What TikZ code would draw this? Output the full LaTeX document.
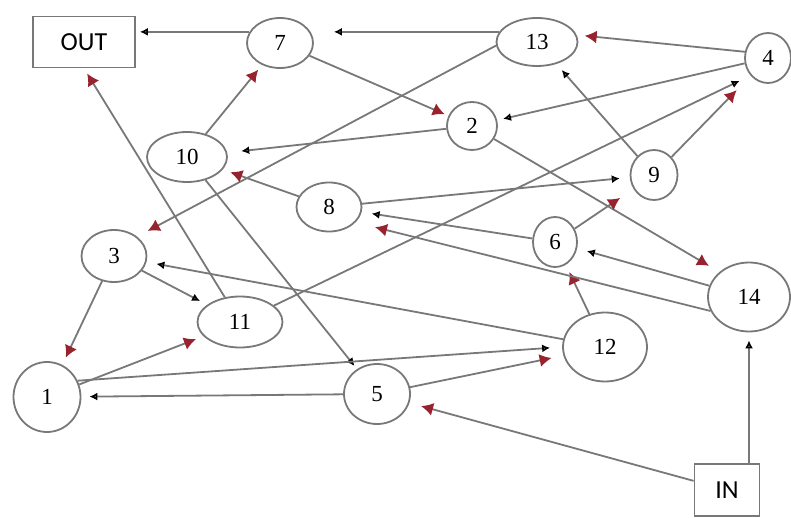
\documentclass[tikz,border=0pt]{standalone}
\usepackage{fontspec}
\setmainfont{Liberation Serif}
\setsansfont{Carlito}
\usepackage{xcolor}
\usepackage{tikz}
\usetikzlibrary{arrows.meta,shapes.geometric}

\definecolor{linegray}{RGB}{120,120,120}
\definecolor{tipred}{RGB}{150,35,45}

\begin{document}
\begin{tikzpicture}[x=0.5pt,y=-0.5pt,>={Latex[length=4pt,width=4pt,color=black]},
	state/.style={ellipse,draw=linegray,line width=0.9pt,inner sep=0pt,font=\fontsize{11.5}{13}\selectfont},
	box/.style={rectangle,draw=linegray,line width=0.9pt,inner sep=0pt,font=\sffamily\fontsize{13}{15}\selectfont},
	redtip/.style={-{Latex[length=6pt,width=6.5pt,color=tipred]}}]
	\useasboundingbox (0,0) rectangle (791,518);
	\node[box,minimum width=51pt,minimum height=25.5pt]     (qout) at (84,42)   {OUT};
	\node[state,minimum width=33pt,minimum height=25pt]     (q7)   at (280,43)  {7};
	\node[state,minimum width=40.5pt,minimum height=24pt]   (q13)  at (537,42)  {13};
	\node[state,minimum width=23pt,minimum height=25pt]     (q4)   at (768,58)  {4};
	\node[state,minimum width=25pt,minimum height=24pt]     (q2)   at (472,126) {2};
	\node[state,minimum width=40pt,minimum height=25pt]     (q10)  at (187,157) {10};
	\node[state,minimum width=23.5pt,minimum height=25pt]   (q9)   at (654,175) {9};
	\node[state,minimum width=32.5pt,minimum height=24.5pt] (q8)   at (329,207) {8};
	\node[state,minimum width=22pt,minimum height=25pt]     (q6)   at (555,242) {6};
	\node[state,minimum width=32.5pt,minimum height=26pt]   (q3)   at (114,256) {3};
	\node[state,minimum width=42.5pt,minimum height=25.5pt] (q11)  at (240,322) {11};
	\node[state,minimum width=33.5pt,minimum height=35pt]   (q1)   at (47,397)  {1};
	\node[state,minimum width=33pt,minimum height=30pt]     (q5)   at (377,394) {5};
	\node[state,minimum width=42pt,minimum height=34.5pt]   (q12)  at (605,347) {12};
	\node[state,minimum width=41pt,minimum height=34.5pt]   (q14)  at (749,297) {14};
	\node[box,minimum width=32.5pt,minimum height=26pt]     (qin)  at (727,490) {IN};
	
	\path[->,color=linegray,line width=0.9pt,shorten >=2pt]
	(q7.160) edge (qout.east |- q7.160)
	(q7) edge [redtip] (q2)
	(q13.165) edge [shorten >=10pt] (q7.east |- q13.165)
	(q13.185) edge [redtip,shorten >=6pt] (q3.40)
	(q4.165) edge [redtip,shorten >=4pt] (q13.10)
	(q4) edge [shorten >=3pt] (q2)
	(q2) edge [shorten >=7pt] (q10)
	edge [redtip,shorten >=6pt] (q14.north west)
	(q10) edge [redtip,shorten >=3pt] (q7)
	edge (q5)
	(q8) edge [redtip,shorten >=4pt] (q10)
	edge [shorten >=5pt] (q9)
	(q11) edge [redtip,shorten >=3pt] (qout.south)
	edge [shorten >=6pt] (q4.225)
	(q5) edge [shorten >=4pt] (q1)
	edge [redtip,shorten >=6pt] (q12)
	(q1.28) edge [shorten >=6pt] (q12.west)
	(q1) edge [redtip,shorten >=4pt] (q11)
	(qin) edge [redtip,shorten >=6pt] (q5)
	(q14.south |- qin.north) edge [shorten >=4pt] (q14.south)
	(q3) edge [redtip,shorten >=4pt] (q1)
	edge [shorten >=4pt] (q11)
	(q12) edge [shorten >=5pt] (q3)
	edge [redtip,shorten >=4pt] (q6)
	(q9) edge [redtip,shorten >=10pt] (q4)
	edge [shorten >=4pt] (q13)
	(q6) edge [redtip,shorten >=8pt] (q9)
	edge [shorten >=5pt] (q8)
	(q14) edge [shorten >=5pt] (q6)
	(q14.200) edge [redtip,shorten >=10pt] (q8.330);
\end{tikzpicture}
\end{document}
